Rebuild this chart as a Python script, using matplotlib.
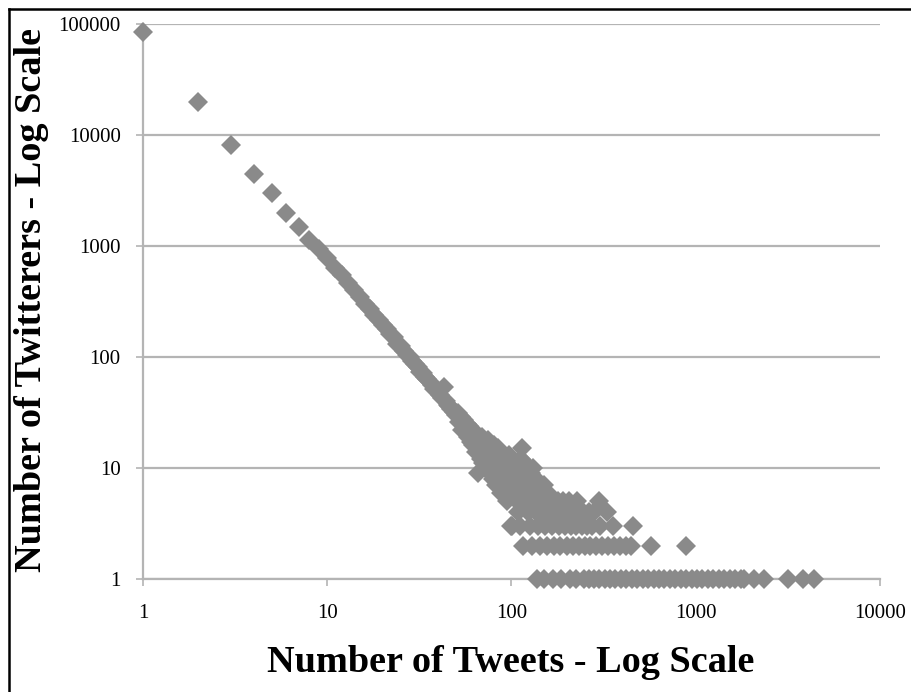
import matplotlib
matplotlib.use("Agg")
import matplotlib.pyplot as plt
from matplotlib.lines import Line2D
from matplotlib.ticker import FixedLocator, NullLocator

plt.rcParams['font.family'] = ['Liberation Serif', 'DejaVu Serif']

# tweets per user (1..100) and how many users had that count
tweets_main = list(range(1, 101))
users_main = [85000, 20000, 8100, 4450, 3000, 2000, 1480, 1130, 930,
              780, 640, 545, 462, 398, 350, 300, 272, 238, 215,
              196, 178, 160, 150, 132, 126, 114, 105, 100, 92,
              86, 81, 74, 72, 66, 63, 59, 56, 52, 50,
              48, 45, 43, 54, 40, 37, 36, 34, 33, 32,
              30, 31, 26, 29, 22, 27, 21, 25, 19, 24,
              17, 22, 16, 21, 14, 20, 9, 18, 12, 19,
              11, 17, 13, 16, 10, 18, 9, 15, 11, 8,
              16, 10, 7, 14, 9, 15, 8, 12, 6, 13,
              10, 7, 12, 9, 5, 11, 7, 13, 6, 10, 3]

# above 100 tweets the counts fall into rows
tweets_15 = [114]
tweets_12 = [113]
tweets_11 = [119]
tweets_10 = [104, 112, 125, 131]
tweets_9 = [102, 108, 118, 127]
tweets_8 = [103, 110, 121, 135]
tweets_7 = [106, 122, 124, 140, 150]
tweets_6 = [105, 117, 128, 137, 146, 158]
tweets_5 = [107, 120, 133, 143, 155, 165, 178, 190, 205, 228, 300]
tweets_4 = [109, 123, 136, 148, 160, 172, 186, 198, 212, 226, 245, 263,
            279, 330]
tweets_3 = [101, 111, 126, 139, 152, 166, 180, 195, 210, 224, 240, 256,
            272, 302, 355, 455]
tweets_2 = [116, 130, 142, 156, 170, 184, 200, 215, 232, 250, 268, 288,
            310, 335, 360, 388, 418, 445, 570, 890]
tweets_1 = [138, 151, 169, 185, 209, 225, 246, 262, 280, 298, 320, 342,
            366, 392, 420, 450, 482, 516, 552, 590, 632, 676, 724, 775,
            830, 888, 950, 1017, 1088, 1165, 1247, 1335, 1430, 1530, 1640,
            1750, 1820, 2070, 2340, 3160, 3800, 4370]

rows = [(tweets_15, 15), (tweets_12, 12), (tweets_11, 11), (tweets_10, 10),
        (tweets_9, 9), (tweets_8, 8), (tweets_7, 7), (tweets_6, 6),
        (tweets_5, 5), (tweets_4, 4), (tweets_3, 3), (tweets_2, 2),
        (tweets_1, 1)]

x_all = list(tweets_main)
y_all = list(users_main)
for xs, cnt in rows:
    x_all += xs
    y_all += [cnt] * len(xs)

x_ticks = [1, 10, 100, 1000, 10000]
y_ticks = [1, 10, 100, 1000, 10000, 100000]

fig = plt.figure(figsize=(9.12, 6.92), dpi=100)
ax = fig.add_axes([143 / 912, 113 / 692, 737 / 912, 555 / 692])
ax.set_xscale('log')
ax.set_yscale('log')
ax.set_xlim(1, 10000)
ax.set_ylim(1, 100000)

grey = '#8a8a8a'
line_grey = '#b4b4b4'
ax.yaxis.grid(True, color=line_grey, lw=1.6)
ax.set_axisbelow(True)

ax.plot(x_all, y_all, ls='none', marker='D', ms=10.5, color=grey,
        markeredgewidth=0, clip_on=False, zorder=3)

for s in ['top', 'right']:
    ax.spines[s].set_visible(False)
for s in ['left', 'bottom']:
    ax.spines[s].set_color(line_grey)
    ax.spines[s].set_linewidth(1.6)

ax.xaxis.set_major_locator(FixedLocator(x_ticks))
ax.yaxis.set_major_locator(FixedLocator(y_ticks))
ax.xaxis.set_minor_locator(NullLocator())
ax.yaxis.set_minor_locator(NullLocator())
ax.set_xticklabels([str(v) for v in x_ticks])
ax.set_yticklabels([str(v) for v in y_ticks])
ax.tick_params(axis='both', length=5, width=1.2, color=line_grey,
               labelsize=15, labelcolor='black')
ax.tick_params(axis='x', pad=13)
ax.tick_params(axis='y', pad=11)

fig.text(511 / 912, 1 - 662 / 692, 'Number of Tweets - Log Scale',
         ha='center', va='center', fontsize=27.5, fontweight='bold')
fig.text(32 / 912, 1 - 300 / 692, 'Number of Twitterers - Log Scale',
         ha='center', va='center', rotation=90, fontsize=27.5,
         fontweight='bold')

# frame round the picture (only left and top are visible)
fig.add_artist(Line2D([9 / 912, 9 / 912], [0, 1 - 9 / 692], color='black',
                      lw=1.8, transform=fig.transFigure))
fig.add_artist(Line2D([9 / 912, 1], [1 - 9 / 692, 1 - 9 / 692],
                      color='black', lw=1.8, transform=fig.transFigure))

fig.savefig('out.png', dpi=100)
